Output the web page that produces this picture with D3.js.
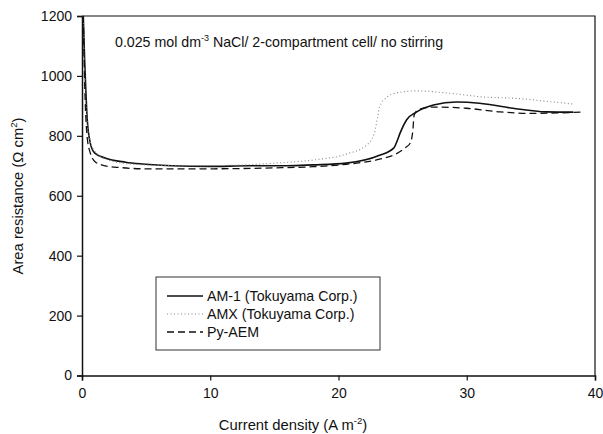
<!DOCTYPE html>
<html>
<head>
<meta charset="utf-8">
<script src="https://cdnjs.cloudflare.com/ajax/libs/d3/7.8.5/d3.min.js"></script>
<style>
  body { margin: 0; background: #fff; }
  text { font-family: "Liberation Sans", Arial, sans-serif; fill: #111; }
</style>
</head>
<body>
<svg id="chart" width="603" height="434"></svg>
<script>
// values: [current density, area resistance]
var am1 = [[0.1,1200],[0.2,1060],[0.3,950],[0.4,860],[0.65,775],[1.0,742],[1.8,726],[3.4,712],[4.7,706],
  [7,700],[10,698],[13,700],[16,700],[18,703],[20.6,709],[23.2,735],[24.3,759],[24.6,786],[24.8,809],
  [25.3,853],[26.1,880],[27.4,903],[29.2,913],[31,909],[33.6,892],[36.2,880],[38.3,879]]
var amx = [[0.1,1200],[0.25,960],[0.4,850],[0.6,790],[1,748],[2,720],[4,705],[8,700],[12,702],
  [15.4,710],[18,719],[20.6,739],[22.2,769],[22.8,809],[23.05,863],[23.2,896],[23.8,930],[24.5,943],
  [26.1,950],[28.7,942],[31.2,930],[33.9,925],[36.5,914],[38.3,906]]
var pyaem = [[0.1,1200],[0.2,990],[0.39,800],[0.65,742],[1.04,713],[1.8,700],[3,694],[5,690],[10,690],
  [15,693],[18,697],[20.6,705],[23.2,722],[24.5,740],[25.2,760],[25.6,776],[25.8,819],[25.9,870],
  [26.3,889],[27.4,896],[30,892],[32.6,880],[35.1,875],[38.9,879]]

var seriesNames = ["AM-1 (Tokuyama Corp.)", "AMX (Tokuyama Corp.)", "Py-AEM"]
var xTicks = [0, 10, 20, 30, 40]
var yTicks = [0, 200, 400, 600, 800, 1000, 1200]

var svg = d3.select("#chart")
var margin = {top: 16, right: 8, bottom: 58.5, left: 82},
  width = 603 - margin.left - margin.right,
  height = 434 - margin.top - margin.bottom

var x = d3.scaleLinear().domain([0, 40]).range([0, width])
var y = d3.scaleLinear().domain([0, 1200]).range([height, 0])

var g = svg.append("g").attr("transform", "translate(" + margin.left + "," + margin.top + ")")

g.append("clipPath").attr("id", "clip")
  .append("rect").attr("width", width).attr("height", height)

// frame (top and right)
g.append("path")
  .attr("d", "M0,0H" + width + "V" + height)
  .attr("fill", "none").attr("stroke", "#111").attr("stroke-width", 1.2)

var xAxis = g.append("g")
  .attr("transform", "translate(0," + height + ")")
  .call(d3.axisBottom(x).tickValues(xTicks).tickFormat(d3.format("d")).tickSize(5).tickPadding(8))
var yAxis = g.append("g")
  .call(d3.axisLeft(y).tickValues(yTicks).tickFormat(d3.format("d")).tickSize(5).tickPadding(5))

;[xAxis, yAxis].forEach(a => {
  a.select(".domain").attr("stroke", "#111").attr("stroke-width", 1.5)
  a.selectAll(".tick line").attr("stroke", "#111").attr("stroke-width", 1.2)
  a.selectAll(".tick text").style("font-size", "14px").attr("fill", "#111")
})

var line = d3.line()
  .curve(d3.curveMonotoneX)
  .x(d => x(d[0]))
  .y(d => y(d[1]))

var styles = [
  {data: am1, color: "#111", w: 1.6, dash: null},
  {data: amx, color: "#888", w: 1.1, dash: "1,2.5"},
  {data: pyaem, color: "#111", w: 1.3, dash: "7,4"}
]

var plot = g.append("g").attr("clip-path", "url(#clip)")
styles.forEach(s => {
  plot.append("path")
    .attr("d", line(s.data))
    .attr("fill", "none")
    .attr("stroke", s.color)
    .attr("stroke-width", s.w)
    .attr("stroke-dasharray", s.dash)
})

// annotation
var note = svg.append("text").attr("x", 115).attr("y", 47).style("font-size", "14.2px")
note.append("tspan").text("0.025 mol dm")
note.append("tspan").attr("dy", -6).style("font-size", "9px").text("-3")
note.append("tspan").attr("dy", 6).text(" NaCl/ 2-compartment cell/ no stirring")

// legend
var lg = svg.append("g")
lg.append("rect")
  .attr("x", 156).attr("y", 277).attr("width", 224).attr("height", 73)
  .attr("fill", "#fff").attr("stroke", "#333").attr("stroke-width", 1)
styles.forEach((s, i) => {
  var yy = 296 + i * 18
  lg.append("line")
    .attr("x1", 167).attr("x2", 203).attr("y1", yy).attr("y2", yy)
    .attr("stroke", s.color).attr("stroke-width", s.w)
    .attr("stroke-dasharray", s.dash)
  lg.append("text")
    .attr("x", 207).attr("y", yy + 5)
    .style("font-size", "14.2px")
    .text(seriesNames[i])
})

// axis titles
var xt = svg.append("text").attr("x", 293).attr("y", 430)
  .attr("text-anchor", "middle").style("font-size", "14.8px")
xt.append("tspan").text("Current density (A m")
xt.append("tspan").attr("dy", -6).style("font-size", "9.5px").text("-2")
xt.append("tspan").attr("dy", 6).text(")")

var yt = svg.append("text")
  .attr("transform", "translate(23,196) rotate(-90)")
  .attr("text-anchor", "middle").style("font-size", "14.8px")
yt.append("tspan").text("Area resistance (\u03A9 cm")
yt.append("tspan").attr("dy", -6).style("font-size", "9.5px").text("2")
yt.append("tspan").attr("dy", 6).text(")")
</script>
</body>
</html>
